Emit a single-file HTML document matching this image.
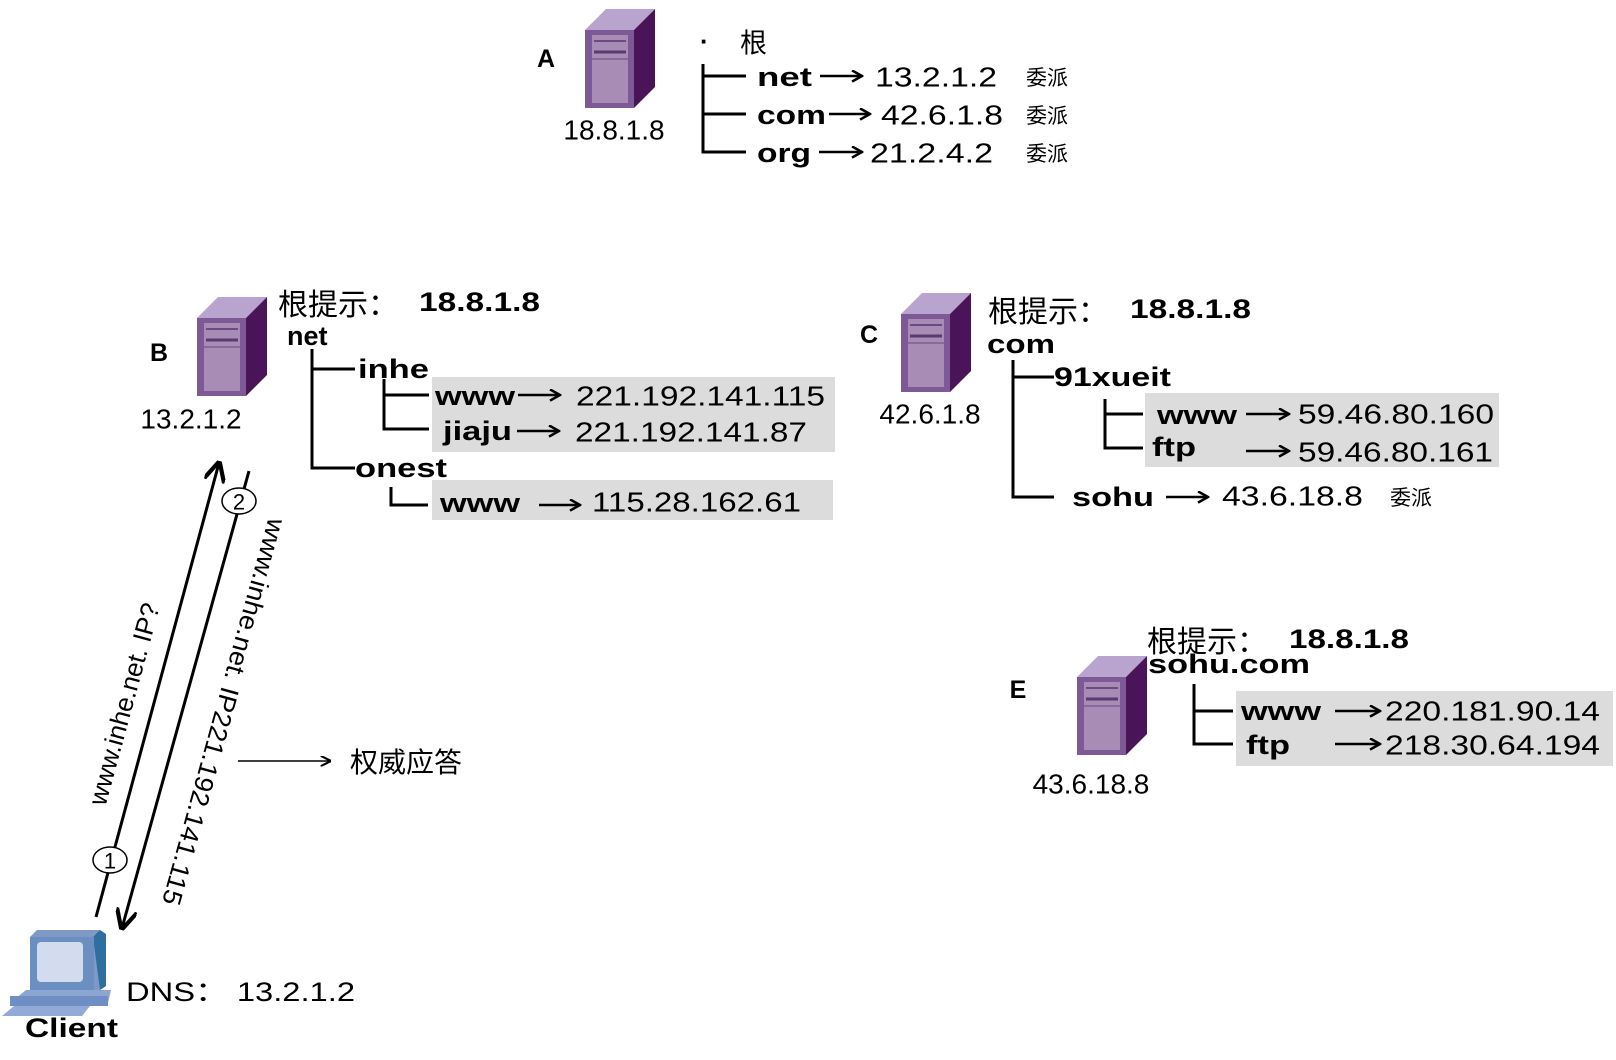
<!DOCTYPE html>
<html><head><meta charset="utf-8"><style>
html,body{margin:0;padding:0;background:#fff;}
svg{display:block;}
text{font-family:"Liberation Sans","Noto Sans CJK SC",sans-serif;fill:#000;}
.b{font-weight:bold;}
.cn{font-family:"Noto Sans CJK SC","WenQuanYi Zen Hei",sans-serif;}
</style></head><body>
<svg width="1616" height="1060" viewBox="0 0 1616 1060" xmlns="http://www.w3.org/2000/svg">
<defs>
<g id="srv">
 <polygon points="0,21 21,0 70,0 49,21" fill="#b9a3cf"/>
 <polygon points="49,21 70,0 70,78 49,99" fill="#4a1458"/>
 <rect x="0" y="21" width="49" height="78" fill="#7d5a96"/>
 <rect x="7" y="26" width="36" height="68" fill="#a88cb5"/>
 <line x1="9" y1="32" x2="41" y2="32" stroke="#6a4a80" stroke-width="2"/>
 <line x1="9" y1="43" x2="41" y2="43" stroke="#5a3a70" stroke-width="3"/>
 <line x1="7" y1="50" x2="43" y2="50" stroke="#8a6a9c" stroke-width="2"/>
</g>
<marker id="ah" viewBox="0 0 10 10" refX="9" refY="5" markerWidth="7" markerHeight="7" orient="auto"><path d="M0,0 L10,5 L0,10" fill="none" stroke="#000" stroke-width="2"/></marker>
<marker id="ah2" viewBox="0 0 10 10" refX="9" refY="5" markerWidth="5" markerHeight="5" orient="auto"><path d="M1,0.5 L9,5 L1,9.5" fill="none" stroke="#000" stroke-width="2"/></marker>
</defs>

<!-- A -->
<text x="546" y="59" class="b" font-size="25" text-anchor="middle" dominant-baseline="central">A</text>
<use href="#srv" x="585" y="9"/>
<text x="614" y="130" font-size="28" text-anchor="middle" dominant-baseline="central">18.8.1.8</text>
<text x="700" y="41" font-size="26" class="b" dominant-baseline="central">·</text>
<text x="740" y="41" font-size="27" class="cn" dominant-baseline="central">根</text>
<g stroke="#000" stroke-width="3" fill="none">
<polyline points="703,64 703,152 746,152"/><line x1="703" y1="76" x2="746" y2="76"/><line x1="703" y1="114" x2="746" y2="114"/>
</g>
<g stroke="#000" stroke-width="2.5" marker-end="url(#ah2)">
<line x1="820" y1="76" x2="862" y2="76"/><line x1="829" y1="114" x2="870" y2="114"/><line x1="819" y1="152" x2="862" y2="152"/>
</g>
<text x="757" y="77" class="b" font-size="27" textLength="55" lengthAdjust="spacingAndGlyphs" dominant-baseline="central">net</text>
<text x="757" y="115" class="b" font-size="27" textLength="69" lengthAdjust="spacingAndGlyphs" dominant-baseline="central">com</text>
<text x="757" y="153" class="b" font-size="27" textLength="54" lengthAdjust="spacingAndGlyphs" dominant-baseline="central">org</text>
<text x="875" y="77" font-size="28" textLength="122" lengthAdjust="spacingAndGlyphs" dominant-baseline="central">13.2.1.2</text>
<text x="881" y="115" font-size="28" textLength="122" lengthAdjust="spacingAndGlyphs" dominant-baseline="central">42.6.1.8</text>
<text x="870" y="153" font-size="28" textLength="123" lengthAdjust="spacingAndGlyphs" dominant-baseline="central">21.2.4.2</text>
<text x="1026" y="77" font-size="21" class="cn" dominant-baseline="central">委派</text>
<text x="1026" y="115" font-size="21" class="cn" dominant-baseline="central">委派</text>
<text x="1026" y="153" font-size="21" class="cn" dominant-baseline="central">委派</text>

<!-- B -->
<text x="159" y="353" class="b" font-size="25" text-anchor="middle" dominant-baseline="central">B</text>
<use href="#srv" x="197" y="297"/>
<text x="191" y="419" font-size="28" text-anchor="middle" dominant-baseline="central">13.2.1.2</text>
<text x="278" y="302" font-size="30" class="cn" dominant-baseline="central">根提示：</text>
<text x="419" y="302" class="b" font-size="27" textLength="121" lengthAdjust="spacingAndGlyphs" dominant-baseline="central">18.8.1.8</text>
<text x="287" y="336" class="b" font-size="27" dominant-baseline="central">net</text>
<rect x="432" y="377" width="403" height="75" fill="#dcdcdc"/>
<rect x="432" y="480" width="401" height="40" fill="#dcdcdc"/>
<g stroke="#000" stroke-width="3" fill="none">
<polyline points="312,349 312,468 355,468"/><line x1="312" y1="369" x2="355" y2="369"/>
<polyline points="384,379 384,429 429,429"/><line x1="384" y1="395" x2="429" y2="395"/>
<polyline points="391,487 391,505 428,505"/>
</g>
<text x="358" y="369" class="b" font-size="27" textLength="71" lengthAdjust="spacingAndGlyphs" dominant-baseline="central">inhe</text>
<text x="355" y="468" class="b" font-size="27" textLength="92" lengthAdjust="spacingAndGlyphs" dominant-baseline="central">onest</text>
<text x="435" y="396" class="b" font-size="27" textLength="80" lengthAdjust="spacingAndGlyphs" dominant-baseline="central">www</text>
<text x="443" y="431" class="b" font-size="27" textLength="69" lengthAdjust="spacingAndGlyphs" dominant-baseline="central">jiaju</text>
<text x="440" y="503" class="b" font-size="27" textLength="80" lengthAdjust="spacingAndGlyphs" dominant-baseline="central">www</text>
<g stroke="#000" stroke-width="2.5" marker-end="url(#ah2)">
<line x1="518" y1="395" x2="560" y2="395"/><line x1="517" y1="431" x2="559" y2="431"/><line x1="539" y1="505" x2="580" y2="505"/>
</g>
<text x="576" y="396" font-size="28" textLength="249" lengthAdjust="spacingAndGlyphs" dominant-baseline="central">221.192.141.115</text>
<text x="575" y="432" font-size="28" textLength="232" lengthAdjust="spacingAndGlyphs" dominant-baseline="central">221.192.141.87</text>
<text x="592" y="502" font-size="28" textLength="209" lengthAdjust="spacingAndGlyphs" dominant-baseline="central">115.28.162.61</text>

<!-- C -->
<text x="869" y="335" class="b" font-size="25" text-anchor="middle" dominant-baseline="central">C</text>
<use href="#srv" x="901" y="293"/>
<text x="930" y="414" font-size="28" text-anchor="middle" dominant-baseline="central">42.6.1.8</text>
<text x="988" y="309" font-size="30" class="cn" dominant-baseline="central">根提示：</text>
<text x="1130" y="309" class="b" font-size="27" textLength="121" lengthAdjust="spacingAndGlyphs" dominant-baseline="central">18.8.1.8</text>
<text x="987" y="344" class="b" font-size="27" textLength="68" lengthAdjust="spacingAndGlyphs" dominant-baseline="central">com</text>
<rect x="1145" y="393" width="354" height="74" fill="#dcdcdc"/>
<g stroke="#000" stroke-width="3" fill="none">
<polyline points="1013,360 1013,497 1054,497"/><line x1="1013" y1="377" x2="1054" y2="377"/>
<polyline points="1105,399 1105,448 1143,448"/><line x1="1105" y1="414" x2="1143" y2="414"/>
</g>
<text x="1054" y="377" class="b" font-size="27" textLength="117" lengthAdjust="spacingAndGlyphs" dominant-baseline="central">91xueit</text>
<text x="1157" y="415" class="b" font-size="27" textLength="80" lengthAdjust="spacingAndGlyphs" dominant-baseline="central">www</text>
<text x="1152" y="447" class="b" font-size="27" textLength="44" lengthAdjust="spacingAndGlyphs" dominant-baseline="central">ftp</text>
<text x="1072" y="497" class="b" font-size="27" textLength="82" lengthAdjust="spacingAndGlyphs" dominant-baseline="central">sohu</text>
<g stroke="#000" stroke-width="2.5" marker-end="url(#ah2)">
<line x1="1246" y1="414" x2="1289" y2="414"/><line x1="1246" y1="451" x2="1289" y2="451"/><line x1="1166" y1="497" x2="1208" y2="497"/>
</g>
<text x="1298" y="414" font-size="28" textLength="196" lengthAdjust="spacingAndGlyphs" dominant-baseline="central">59.46.80.160</text>
<text x="1298" y="452" font-size="28" textLength="195" lengthAdjust="spacingAndGlyphs" dominant-baseline="central">59.46.80.161</text>
<text x="1222" y="496" font-size="28" textLength="141" lengthAdjust="spacingAndGlyphs" dominant-baseline="central">43.6.18.8</text>
<text x="1390" y="497" font-size="21" class="cn" dominant-baseline="central">委派</text>

<!-- E -->
<text x="1018" y="690" class="b" font-size="25" text-anchor="middle" dominant-baseline="central">E</text>
<use href="#srv" x="1077" y="656"/>
<text x="1091" y="784" font-size="28" text-anchor="middle" dominant-baseline="central">43.6.18.8</text>
<text x="1147" y="639" font-size="30" class="cn" dominant-baseline="central">根提示：</text>
<text x="1289" y="639" class="b" font-size="27" textLength="120" lengthAdjust="spacingAndGlyphs" dominant-baseline="central">18.8.1.8</text>
<text x="1148" y="664" class="b" font-size="27" textLength="162" lengthAdjust="spacingAndGlyphs" dominant-baseline="central">sohu.com</text>
<rect x="1236" y="691" width="377" height="75" fill="#dcdcdc"/>
<g stroke="#000" stroke-width="3" fill="none">
<polyline points="1194,684 1194,744 1233,744"/><line x1="1194" y1="711" x2="1233" y2="711"/>
</g>
<text x="1241" y="711" class="b" font-size="27" textLength="80" lengthAdjust="spacingAndGlyphs" dominant-baseline="central">www</text>
<text x="1246" y="745" class="b" font-size="27" textLength="44" lengthAdjust="spacingAndGlyphs" dominant-baseline="central">ftp</text>
<g stroke="#000" stroke-width="2.5" marker-end="url(#ah2)">
<line x1="1335" y1="711" x2="1380" y2="711"/><line x1="1335" y1="744" x2="1380" y2="744"/>
</g>
<text x="1385" y="711" font-size="28" textLength="215" lengthAdjust="spacingAndGlyphs" dominant-baseline="central">220.181.90.14</text>
<text x="1385" y="745" font-size="28" textLength="215" lengthAdjust="spacingAndGlyphs" dominant-baseline="central">218.30.64.194</text>

<!-- query arrows -->
<line x1="96" y1="917" x2="219" y2="463" stroke="#000" stroke-width="3" marker-end="url(#ah)"/>
<line x1="249" y1="471" x2="122" y2="928" stroke="#000" stroke-width="3" marker-end="url(#ah)"/>
<ellipse cx="110" cy="860" rx="17" ry="13" fill="#fff" stroke="#000" stroke-width="1.5"/>
<text x="110" y="861" font-size="22" text-anchor="middle" dominant-baseline="central">1</text>
<ellipse cx="239" cy="501" rx="17" ry="13" fill="#fff" stroke="#000" stroke-width="1.5"/>
<text x="239" y="502" font-size="22" text-anchor="middle" dominant-baseline="central">2</text>
<text transform="translate(124,704) rotate(-74.8)" font-size="26" text-anchor="middle" dominant-baseline="central">www.inhe.net.  IP?</text>
<text transform="translate(224,712) rotate(105.5)" font-size="26" text-anchor="middle" textLength="400" lengthAdjust="spacingAndGlyphs" dominant-baseline="central">www.inhe.net. IP221.192.141.115</text>
<line x1="238" y1="761" x2="330" y2="761" stroke="#000" stroke-width="1.5" marker-end="url(#ah)"/>
<text x="350" y="761" font-size="28" class="cn" dominant-baseline="central">权威应答</text>

<!-- client -->
<polygon points="30,937 37,930 100,930 100,990 30,990" fill="#7f98c6"/>
<polygon points="93,937 100,930 106,934 106,986 100,990" fill="#2f6f9f"/>
<rect x="30" y="937" width="64" height="53" fill="#6a8fc0"/>
<rect x="37" y="942" width="46" height="40" rx="4" fill="#d3dbef"/>
<polygon points="10,1003 26,990 111,990 108,1003" fill="#8ca6d4"/>
<rect x="10" y="996" width="98" height="10" fill="#6f8fc4"/>
<polygon points="2,1016 14,1006 90,1006 82,1016" fill="#93a9d8"/>
<text x="126" y="992" font-size="27" textLength="229" lengthAdjust="spacingAndGlyphs" dominant-baseline="central">DNS：  13.2.1.2</text>
<text x="25" y="1028" class="b" font-size="27" textLength="93" lengthAdjust="spacingAndGlyphs" dominant-baseline="central">Client</text>
</svg>
</body></html>
